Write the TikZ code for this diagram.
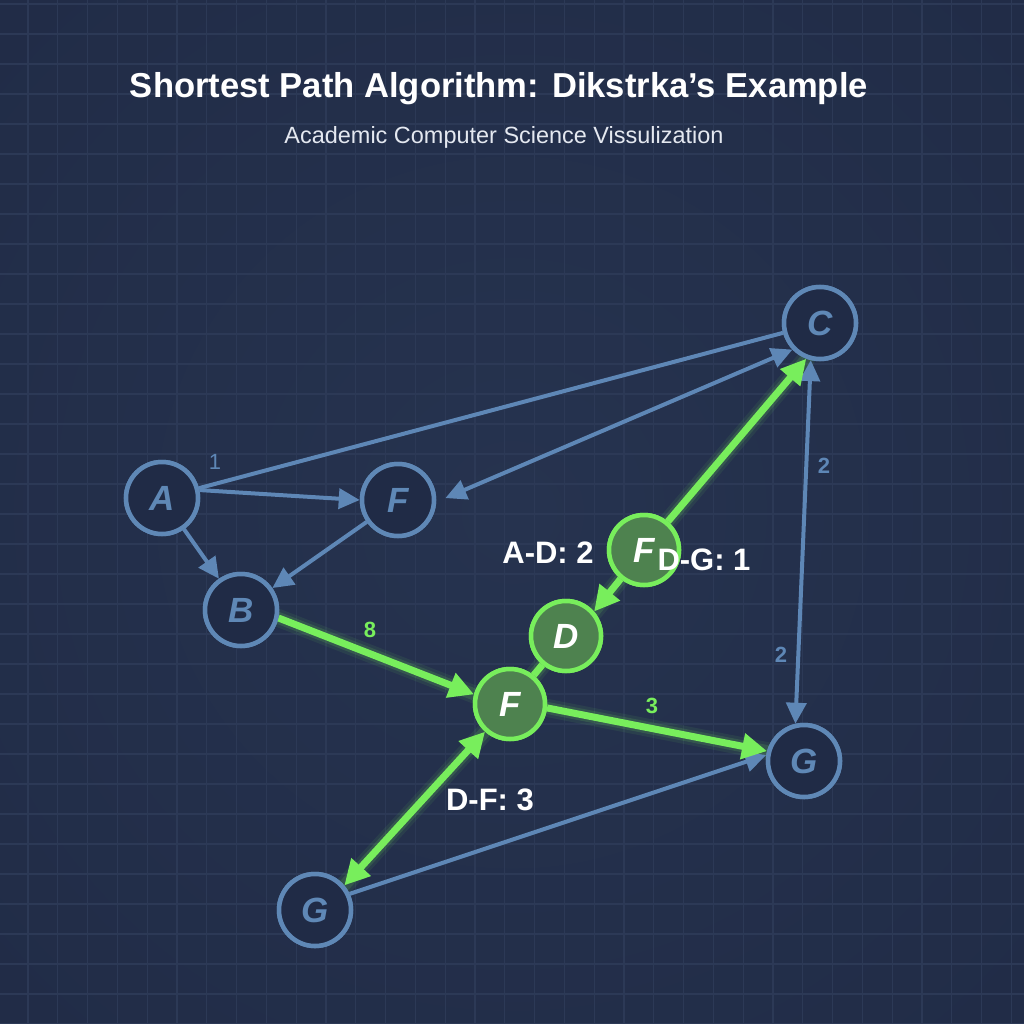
\documentclass[tikz,border=0pt]{standalone}
\usepackage{fontspec}
\usepackage{graphicx}
\setmainfont{Liberation Sans}
\usetikzlibrary{arrows.meta}
\definecolor{bg}{HTML}{212C47}
\definecolor{bgin}{HTML}{26334F}
\definecolor{gridc}{HTML}{2C3956}
\definecolor{nodeblue}{HTML}{5F88B6}
\definecolor{eblue}{HTML}{5E87B6}
\definecolor{nodefill}{HTML}{202B46}
\definecolor{gline}{HTML}{78EE5C}
\definecolor{gfill}{HTML}{4E824F}
\definecolor{subc}{HTML}{E4E8F0}
\tikzset{
  bnode/.style={circle, draw=nodeblue, line width=4.5pt, fill=nodefill, minimum size=72pt, inner sep=0pt,
    font=\fontsize{35}{35}\selectfont\bfseries\itshape, text=nodeblue},
  gnode/.style={circle, draw=gline, line width=4.5pt, fill=gfill, minimum size=70pt, inner sep=0pt,
    font=\fontsize{35}{35}\selectfont\bfseries\itshape, text=white},
  bedge/.style={draw=eblue, line width=4pt},
  gedge/.style={draw=gline, line width=7pt},
  gglow/.style={draw=gline, line width=18pt, opacity=0.08, line cap=round},
  gglowb/.style={draw=gline, line width=12pt, opacity=0.14, line cap=round},
  bto/.style={-{Triangle[length=21pt,width=20pt]}},
  bboth/.style={{Triangle[length=21pt,width=20pt]}-{Triangle[length=21pt,width=20pt]}},
  gto/.style={-{Triangle[length=25pt,width=25pt]}},
  gboth/.style={{Triangle[length=25pt,width=25pt]}-{Triangle[length=25pt,width=25pt]}},
  wlab/.style={font=\fontsize{31}{31}\selectfont\bfseries, text=white, inner sep=0pt},
  blab/.style={font=\fontsize{22}{22}\selectfont\bfseries, text=eblue, inner sep=0pt},
  glab/.style={font=\fontsize{22}{22}\selectfont\bfseries, text=gline, inner sep=0pt},
}
\begin{document}
\begin{tikzpicture}[x=1pt,y=-1pt]
\useasboundingbox (0,0) rectangle (1024,1024);
\fill[bg] (0,0) rectangle (1024,1024);
\shade[inner color=bgin, outer color=bg] (-200,-200) rectangle (1224,1224);
\foreach \i in {0,...,34} \draw[gridc, line width=1.3pt] ({28+29.8*\i},0) -- ({28+29.8*\i},1024);
\foreach \j in {0,...,34} \draw[gridc, line width=1.3pt] (0,{4+30*\j}) -- (1024,{4+30*\j});

% titles
\node[text=white, inner sep=0pt] (title) at (499,89) {\resizebox{738pt}{!}{\bfseries Shortest Path Algorithm: Dikstrka’s Example}};
\node[text=subc, inner sep=0pt] (subtitle) at (504,137) {\resizebox{439pt}{!}{Academic Computer Science Vissulization}};

% node positions
\coordinate (pA) at (162,498);
\coordinate (pF1) at (398,500);
\coordinate (pB) at (241,610);
\coordinate (pC) at (820,323);
\coordinate (pGr) at (804,761);
\coordinate (pGb) at (315,910);
\coordinate (pFt) at (644,550);
\coordinate (pD) at (566,636);
\coordinate (pFc) at (510,704);

% nodes (drawn first for anchors)
\node[bnode] (A) at (pA) {A};
\node[bnode] (F1) at (pF1) {F};
\node[bnode] (B) at (pB) {B};
\node[bnode] (C) at (pC) {C};
\node[bnode] (Gr) at (pGr) {G};
\node[bnode] (Gb) at (pGb) {G};
\node[gnode] (Ft) at (pFt) {F};
\node[gnode] (D) at (pD) {D};
\node[gnode] (Fc) at (pFc) {F};

% glow for green edges
\foreach \s in {gglow,gglowb}{
  \draw[\s] (B.-12) -- (Fc.165);
  \draw[\s] (Fc.-6) -- (Gr.165);
  \draw[\s] (Ft.50) -- (C.249);
  \draw[\s] (Ft.231) -- (D.41);
  \draw[\s] (D) -- (Fc);
  \draw[\s] (Fc.228) -- (Gb.40);
}

% blue edges
\draw[bedge] (A) -- (C);
\draw[bedge, bboth, shorten <=10pt] (F1.-3) -- (C.224);
\draw[bedge, bto] (A.12) -- (F1.west);
\draw[bedge, bto] (A) -- (B);
\draw[bedge, bto] (F1) -- (B);
\draw[bedge, bboth] (C.256) -- (Gr.103);
\draw[bedge, bto] (Gb.25) -- (Gr.171);

% green edges
\draw[gedge, gto] (B.-12) -- (Fc.165);
\draw[gedge, gto] (Fc.-6) -- (Gr.165);
\draw[gedge, gto] (Ft.50) -- (C.249);
\draw[gedge, gto] (Ft.231) -- (D.41);
\draw[gedge] (D) -- (Fc);
\draw[gedge, gboth] (Fc.228) -- (Gb.40);

% redraw nodes on top
\node[bnode] at (pA) {A};
\node[bnode] at (pF1) {F};
\node[bnode] at (pB) {B};
\node[bnode] at (pC) {C};
\node[bnode] at (pGr) {G};
\node[bnode] at (pGb) {G};
\node[gnode] at (pFt) {F};
\node[gnode] at (pD) {D};
\node[gnode] at (pFc) {F};

% labels
\node[blab, font=\fontsize{22}{22}\selectfont] (l1) at (215,462) {1};
\node[glab] (l8) at (370,630) {8};
\node[glab] (l3) at (652,706) {3};
\node[blab] (l2a) at (824,466) {2};
\node[blab] (l2b) at (781,655) {2};
\node[wlab] (lAD) at (548,553) {A-D: 2};
\node[wlab] (lDG) at (704,560) {D-G: 1};
\node[wlab] (lDF) at (490,800) {D-F: 3};
\end{tikzpicture}
\end{document}
